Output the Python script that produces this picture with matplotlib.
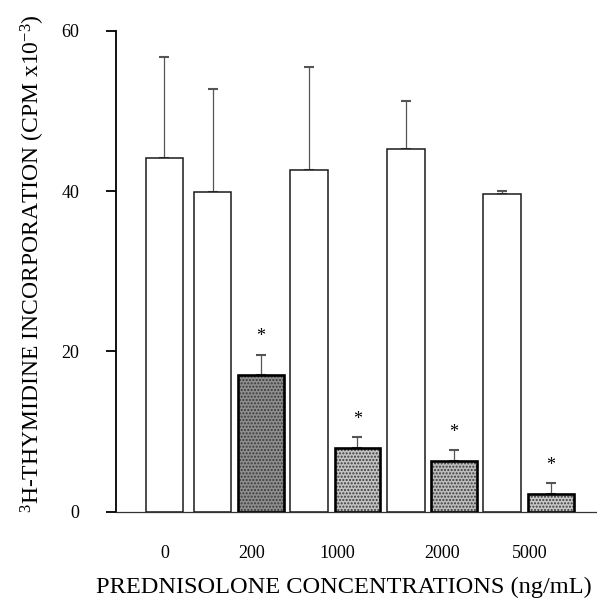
import matplotlib
matplotlib.use('Agg')
import matplotlib.pyplot as plt

# ---- data ----
concentrations = ['0', '200', '1000', '2000', '5000']
control_means = [44.2, 39.9, 42.6, 45.3, 39.6]
control_err = [12.5, 12.8, 12.9, 5.9, 0.4]
treated_conc = ['200', '1000', '2000', '5000']
treated_means = [17.1, 7.9, 6.3, 2.2]
treated_err = [2.5, 1.4, 1.4, 1.3]
y_ticks = [0, 20, 40, 60]

plt.rcParams['font.family'] = ['Liberation Serif', 'DejaVu Serif']
plt.rcParams['mathtext.fontset'] = 'custom'
plt.rcParams['mathtext.rm'] = 'Liberation Serif'
plt.rcParams['mathtext.it'] = 'Liberation Serif:italic'
plt.rcParams['hatch.linewidth'] = 1.0

fig = plt.figure(figsize=(5.97, 6.04), dpi=100)
ax = fig.add_axes([0.1936, 0.1531, 0.8047, 0.7956])

# slot layout: control at 0,1,3,5,7 ; treated at 2,4,6,8
ctrl_x = [0, 1, 3, 5, 7]
trt_x = [2, 4, 6, 8]
label_x = [0.02, 1.81, 3.59, 5.75, 7.57]

ax.bar(ctrl_x, control_means, width=0.78, color='white', edgecolor='#1a1a1a',
       linewidth=1.1, zorder=2)
ax.errorbar(ctrl_x, control_means, yerr=[[0]*5, control_err], fmt='none',
            ecolor='#555555', elinewidth=0.9, capsize=3.8, capthick=1.5, zorder=1)

faces = ['#8e8e8e', '#c2c2c2', '#bcbcbc', '#c8c8c8']
for x, m, fc in zip(trt_x, treated_means, faces):
    ax.bar(x, m, width=0.95, color=fc, edgecolor='#3a3a3a', hatch='.....',
           linewidth=0, zorder=2)
    ax.bar(x, m, width=0.95, fill=False, edgecolor='black', linewidth=1.9, zorder=3)
ax.errorbar(trt_x, treated_means, yerr=[[0]*4, treated_err], fmt='none',
            ecolor='#555555', elinewidth=0.9, capsize=3.8, capthick=1.5, zorder=1)

for x, m, e in zip(trt_x, treated_means, treated_err):
    ax.text(x, m + e + 2.2, '*', ha='center', va='center', fontsize=13)

ax.set_xlim(-1.01, 8.94)
ax.set_ylim(0, 60)
ax.set_yticks(y_ticks)
ax.set_yticklabels([str(v) for v in y_ticks], fontsize=13)
ax.set_xticks(label_x)
ax.set_xticklabels(concentrations, fontsize=13)
ax.tick_params(axis='x', length=0, pad=24)
ax.tick_params(axis='y', direction='out', length=7, width=1.3, pad=19)

for s in ['top', 'right']:
    ax.spines[s].set_visible(False)
ax.spines['left'].set_linewidth(1.3)
ax.spines['bottom'].set_linewidth(0.9)
ax.spines['bottom'].set_color('#333333')

fig.text(0.576, 0.028, 'PREDNISOLONE CONCENTRATIONS (ng/mL)', ha='center',
         va='center', fontsize=17.6)
fig.text(0.055, 0.563, r'$^3$H-THYMIDINE INCORPORATION (CPM x10$^{-3}$)',
         rotation=90, ha='center', va='center', fontsize=17)

fig.savefig('out.png', dpi=100)
